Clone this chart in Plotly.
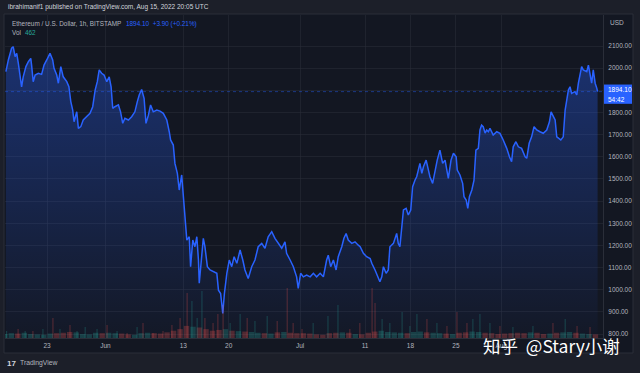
import numpy as np
import pandas as pd
import plotly.graph_objects as go

# ---------------- data ----------------
price_time = [
    "2022-05-16 16:00", "2022-05-17 01:00", "2022-05-17 13:00", "2022-05-17 19:00", "2022-05-18 02:00",
    "2022-05-18 08:00", "2022-05-18 14:00", "2022-05-18 20:00", "2022-05-19 02:00", "2022-05-19 08:00",
    "2022-05-19 18:00", "2022-05-20 03:00", "2022-05-20 12:00", "2022-05-20 15:00", "2022-05-20 21:00",
    "2022-05-21 04:00", "2022-05-21 16:00", "2022-05-22 04:00", "2022-05-22 13:00", "2022-05-22 23:00",
    "2022-05-23 11:00", "2022-05-23 21:00", "2022-05-24 02:00", "2022-05-24 12:00", "2022-05-24 18:00",
    "2022-05-25 03:00", "2022-05-25 12:00", "2022-05-26 01:00", "2022-05-26 09:00", "2022-05-26 16:00",
    "2022-05-26 23:00", "2022-05-27 04:00", "2022-05-27 14:00", "2022-05-27 20:00", "2022-05-28 05:00",
    "2022-05-28 14:00", "2022-05-29 03:00", "2022-05-29 15:00", "2022-05-30 01:00", "2022-05-30 10:00",
    "2022-05-30 18:00", "2022-05-31 01:00", "2022-05-31 10:00", "2022-05-31 19:00", "2022-06-01 05:00",
    "2022-06-01 14:00", "2022-06-01 21:00", "2022-06-02 03:00", "2022-06-02 11:00", "2022-06-03 00:00",
    "2022-06-03 08:00", "2022-06-03 16:00", "2022-06-04 00:00", "2022-06-04 13:00", "2022-06-05 01:00",
    "2022-06-05 13:00", "2022-06-05 22:00", "2022-06-06 05:00", "2022-06-06 14:00", "2022-06-06 23:00",
    "2022-06-07 06:00", "2022-06-07 15:00", "2022-06-07 23:00", "2022-06-08 09:00", "2022-06-08 22:00",
    "2022-06-09 10:00", "2022-06-09 22:00", "2022-06-10 11:00", "2022-06-10 20:00", "2022-06-11 01:00",
    "2022-06-11 11:00", "2022-06-11 17:00", "2022-06-12 02:00", "2022-06-12 09:00", "2022-06-12 18:00",
    "2022-06-13 00:00", "2022-06-13 06:00", "2022-06-13 13:00", "2022-06-13 22:00", "2022-06-14 03:00",
    "2022-06-14 11:00", "2022-06-14 19:00", "2022-06-15 02:00", "2022-06-15 08:00", "2022-06-15 11:00",
    "2022-06-15 20:00", "2022-06-16 02:00", "2022-06-16 08:00", "2022-06-16 17:00", "2022-06-17 03:00",
    "2022-06-17 15:00", "2022-06-18 04:00", "2022-06-18 10:00", "2022-06-18 18:00", "2022-06-19 02:00",
    "2022-06-19 08:00", "2022-06-19 17:00", "2022-06-20 02:00", "2022-06-20 11:00", "2022-06-20 20:00",
    "2022-06-21 06:00", "2022-06-21 18:00", "2022-06-22 04:00", "2022-06-22 12:00", "2022-06-23 00:00",
    "2022-06-23 13:00", "2022-06-24 01:00", "2022-06-24 13:00", "2022-06-25 02:00", "2022-06-25 14:00",
    "2022-06-26 02:00", "2022-06-26 15:00", "2022-06-27 03:00", "2022-06-27 15:00", "2022-06-28 04:00",
    "2022-06-28 16:00", "2022-06-28 22:00", "2022-06-29 11:00", "2022-06-29 23:00", "2022-06-30 11:00",
    "2022-06-30 17:00", "2022-07-01 02:00", "2022-07-01 12:00", "2022-07-02 00:00", "2022-07-02 13:00",
    "2022-07-03 01:00", "2022-07-03 13:00", "2022-07-04 02:00", "2022-07-04 14:00", "2022-07-05 02:00",
    "2022-07-05 08:00", "2022-07-05 17:00", "2022-07-06 03:00", "2022-07-06 13:00", "2022-07-06 21:00",
    "2022-07-07 10:00", "2022-07-07 18:00", "2022-07-08 02:00", "2022-07-08 10:00", "2022-07-08 23:00",
    "2022-07-09 11:00", "2022-07-09 23:00", "2022-07-10 06:00", "2022-07-10 18:00", "2022-07-11 06:00",
    "2022-07-11 19:00", "2022-07-12 01:00", "2022-07-12 13:00", "2022-07-13 01:00", "2022-07-13 07:00",
    "2022-07-13 14:00", "2022-07-13 20:00", "2022-07-14 06:00", "2022-07-14 14:00", "2022-07-14 20:00",
    "2022-07-15 09:00", "2022-07-15 21:00", "2022-07-16 03:00", "2022-07-16 09:00", "2022-07-16 16:00",
    "2022-07-16 22:00", "2022-07-17 08:00", "2022-07-17 16:00", "2022-07-18 01:00", "2022-07-18 08:00",
    "2022-07-18 17:00", "2022-07-18 23:00", "2022-07-19 05:00", "2022-07-19 11:00", "2022-07-19 18:00",
    "2022-07-20 00:00", "2022-07-20 10:00", "2022-07-20 18:00", "2022-07-21 00:00", "2022-07-21 10:00",
    "2022-07-21 19:00", "2022-07-22 03:00", "2022-07-22 13:00", "2022-07-22 23:00", "2022-07-23 08:00",
    "2022-07-23 20:00", "2022-07-24 06:00", "2022-07-24 15:00", "2022-07-25 01:00", "2022-07-25 05:00",
    "2022-07-25 15:00", "2022-07-26 01:00", "2022-07-26 06:00", "2022-07-26 14:00", "2022-07-26 20:00",
    "2022-07-27 02:00", "2022-07-27 11:00", "2022-07-27 19:00", "2022-07-28 02:00", "2022-07-28 11:00",
    "2022-07-28 17:00", "2022-07-28 23:00", "2022-07-29 05:00", "2022-07-29 12:00", "2022-07-29 18:00",
    "2022-07-30 00:00", "2022-07-30 06:00", "2022-07-30 18:00", "2022-07-31 07:00", "2022-07-31 19:00",
    "2022-08-01 07:00", "2022-08-01 20:00", "2022-08-02 06:00", "2022-08-02 14:00", "2022-08-02 20:00",
    "2022-08-03 06:00", "2022-08-03 15:00", "2022-08-04 03:00", "2022-08-04 16:00", "2022-08-04 22:00",
    "2022-08-05 07:00", "2022-08-05 16:00", "2022-08-06 01:00", "2022-08-06 11:00", "2022-08-06 23:00",
    "2022-08-07 11:00", "2022-08-08 00:00", "2022-08-08 10:00", "2022-08-08 16:00", "2022-08-09 00:00",
    "2022-08-09 07:00", "2022-08-09 13:00", "2022-08-09 19:00", "2022-08-10 04:00", "2022-08-10 13:00",
    "2022-08-10 20:00", "2022-08-11 02:00", "2022-08-11 08:00", "2022-08-11 14:00", "2022-08-11 20:00",
    "2022-08-12 08:00", "2022-08-12 15:00", "2022-08-12 21:00", "2022-08-13 03:00", "2022-08-13 09:00",
    "2022-08-13 15:00", "2022-08-14 04:00", "2022-08-14 10:00", "2022-08-14 16:00", "2022-08-14 22:00",
    "2022-08-15 04:00", "2022-08-15 11:00", "2022-08-15 17:00", "2022-08-15 20:00",
]
price = [
    1984, 2037, 2090, 2097, 2052, 2067, 2022, 1977, 1916, 1961,
    2007, 2029, 2044, 2014, 1939, 1969, 1977, 1972, 2014, 2037,
    2067, 2037, 1999, 1969, 1932, 2007, 1961, 1939, 1916, 1849,
    1811, 1758, 1803, 1728, 1736, 1766, 1781, 1796, 1826, 1901,
    1939, 1992, 1977, 1969, 1939, 1961, 1916, 1819, 1826, 1834,
    1803, 1751, 1774, 1766, 1781, 1803, 1849, 1879, 1904, 1864,
    1751, 1788, 1834, 1803, 1811, 1806, 1796, 1766, 1713, 1676,
    1653, 1570, 1525, 1450, 1518, 1435, 1345, 1224, 1239, 1104,
    1224, 1194, 1239, 1134, 1029, 1164, 1232, 1194, 1104, 1089,
    1081, 1074, 998, 983, 893, 983, 1074, 1134, 1104, 1149,
    1119, 1179, 1134, 1089, 1051, 1104, 1134, 1194, 1209, 1187,
    1239, 1262, 1232, 1209, 1187, 1216, 1164, 1134, 1104, 1058,
    1006, 1074, 1058, 1066, 1058, 1074, 1058, 1074, 1058, 1134,
    1156, 1104, 1134, 1089, 1149, 1194, 1232, 1254, 1224, 1209,
    1216, 1201, 1194, 1164, 1149, 1141, 1119, 1089, 1058, 1036,
    1058, 1104, 1074, 1089, 1194, 1209, 1254, 1209, 1194, 1284,
    1360, 1367, 1337, 1360, 1465, 1495, 1510, 1540, 1570, 1525,
    1555, 1585, 1532, 1510, 1480, 1540, 1585, 1630, 1570, 1585,
    1503, 1585, 1616, 1600, 1540, 1518, 1480, 1420, 1405, 1367,
    1420, 1450, 1495, 1630, 1638, 1721, 1743, 1736, 1707, 1721,
    1713, 1728, 1698, 1713, 1706, 1676, 1638, 1600, 1578, 1645,
    1668, 1645, 1638, 1600, 1593, 1661, 1690, 1736, 1721, 1713,
    1706, 1721, 1758, 1803, 1781, 1766, 1690, 1683, 1676, 1690,
    1811, 1856, 1901, 1916, 1886, 1894, 1879, 1932, 1977, 2007,
    1992, 1984, 2014, 1977, 1932, 1992, 1932, 1910, 1894.10,
]

# daily background volume (May 16 .. Aug 15)
base_vol_day = pd.date_range("2022-05-16 12:00", "2022-08-15 12:00", freq="D")
base_vol = [
    500, 600, 550, 650, 500, 450, 400, 550, 600, 650, 750, 700, 500, 450, 650, 600,
    650, 600, 550, 450, 400, 600, 650, 600, 550, 700, 900, 1100, 1500, 1400, 1300,
    1100, 900, 1000, 1100, 900, 850, 800, 750, 650, 600, 550, 700, 750, 650, 600,
    600, 550, 450, 400, 600, 650, 700, 650, 500, 450, 650, 800, 900, 750, 700, 650,
    600, 750, 800, 700, 650, 600, 550, 500, 650, 700, 800, 750, 650, 600, 500,
    550, 600, 650, 600, 700, 650, 500, 550, 650, 700, 750, 650, 550, 500, 450,
]

# hourly volume spikes
spike_time = [
    "2022-05-16 19:00", "2022-05-18 13:00", "2022-05-19 15:00", "2022-05-20 20:00", "2022-05-22 09:00",
    "2022-05-23 22:00", "2022-05-25 00:00", "2022-05-26 13:00", "2022-05-27 15:00", "2022-05-28 21:00",
    "2022-05-30 17:00", "2022-06-01 06:00", "2022-06-02 19:00", "2022-06-04 08:00", "2022-06-05 21:00",
    "2022-06-06 19:00", "2022-06-08 08:00", "2022-06-09 21:00", "2022-06-11 06:00", "2022-06-12 12:00",
    "2022-06-13 14:00", "2022-06-14 08:00", "2022-06-15 03:00", "2022-06-15 21:00", "2022-06-16 08:00",
    "2022-06-17 14:00", "2022-06-18 08:00", "2022-06-19 03:00", "2022-06-20 05:00", "2022-06-21 18:00",
    "2022-06-22 20:00", "2022-06-24 01:00", "2022-06-25 22:00", "2022-06-27 11:00", "2022-06-29 00:00",
    "2022-06-29 22:00", "2022-07-01 07:00", "2022-07-03 00:00", "2022-07-05 07:00", "2022-07-06 20:00",
    "2022-07-08 16:00", "2022-07-10 05:00", "2022-07-12 02:00", "2022-07-12 13:00", "2022-07-13 15:00",
    "2022-07-14 20:00", "2022-07-16 17:00", "2022-07-17 22:00", "2022-07-19 00:00", "2022-07-20 13:00",
    "2022-07-22 02:00", "2022-07-23 15:00", "2022-07-25 04:00", "2022-07-26 17:00", "2022-07-27 15:00",
    "2022-07-28 17:00", "2022-07-30 06:00", "2022-07-31 19:00", "2022-08-02 19:00", "2022-08-05 21:00",
    "2022-08-08 23:00", "2022-08-10 20:00", "2022-08-12 16:00", "2022-08-14 16:00",
]
spike_vol = [
    870, 1120, 870, 870, 1120, 2480, 1120, 1610, 870, 1360,
    1120, 1610, 870, 620, 1360, 1860, 620, 870, 1610, 2480,
    5580, 4590, 2480, 5830, 2480, 1860, 2980, 4090, 1860, 2980,
    2480, 2110, 2730, 2110, 6200, 1860, 1120, 1860, 2730, 4090,
    1120, 1860, 6200, 4340, 2360, 1860, 3220, 1490, 2980, 2360,
    1860, 1490, 3220, 1860, 2360, 2980, 1860, 1490, 1360, 1490,
    1860, 2360, 1490, 1360,
]

date_ticks = ["2022-05-23", "2022-06-01", "2022-06-13", "2022-06-20", "2022-07-01",
              "2022-07-11", "2022-07-18", "2022-07-25", "2022-08-01"]
date_tick_text = ["23", "Jun", "13", "20", "Jul", "11", "18", "25", "Aug"]
price_ticks = [800, 900, 1000, 1100, 1200, 1300, 1400, 1500, 1600, 1700, 1800, 1900, 2000, 2100]

# ---------------- styling ----------------
W, H = 640, 373
ML, MR, MT, MB = 5, 37, 15, 35
PW, PH = W - ML - MR, H - MT - MB


def px(x):
    return (x - ML) / PW


def py(y):
    return (H - MB - y) / PH


BLUE = "#2962ff"


def rgba(kind, a):
    return f"rgba(38,166,154,{a})" if kind == "up" else f"rgba(239,83,80,{a})"


pt = pd.to_datetime(price_time)
pnum = pt.astype("int64").to_numpy() / 1e9
pval = np.array(price, dtype=float)


def dir_colors(times, a):
    t = pd.to_datetime(times).astype("int64").to_numpy() / 1e9
    now = np.interp(t, pnum, pval)
    before = np.interp(t - 6 * 3600, pnum, pval)
    return [rgba("up" if n >= b else "down", a) for n, b in zip(now, before)]


fig = go.Figure()

fig.add_trace(go.Scatter(
    x=pt, y=price, mode="lines",
    line=dict(color=BLUE, width=1.5),
    fill="tozeroy",
    fillgradient=dict(type="vertical", start=782, stop=2100,
                      colorscale=[[0, "rgba(41,98,255,0.02)"], [1, "rgba(41,98,255,0.36)"]]),
    hoverinfo="skip", showlegend=False,
))

fig.add_trace(go.Bar(
    x=base_vol_day, y=base_vol, yaxis="y2",
    marker=dict(color=dir_colors(base_vol_day, 0.28), line=dict(width=0)),
    width=20 * 3600 * 1000, showlegend=False, hoverinfo="skip",
))
fig.add_trace(go.Bar(
    x=pd.to_datetime(spike_time), y=spike_vol, yaxis="y2",
    marker=dict(color=dir_colors(spike_time, 0.4), line=dict(width=0)),
    width=3 * 3600 * 1000, showlegend=False, hoverinfo="skip",
))

GRID = "rgba(42,46,57,0.55)"
LABEL = "#b2b5be"
FONT = "Liberation Sans"

fig.update_layout(
    width=W, height=H,
    margin=dict(l=ML, r=MR, t=MT, b=MB),
    paper_bgcolor="#1c1f29",
    plot_bgcolor="rgba(0,0,0,0)",
    barmode="overlay",
    font=dict(family=FONT, size=7, color=LABEL),
    xaxis=dict(
        type="date",
        range=["2022-05-16 12:40", "2022-08-16 16:00"],
        tickmode="array", tickvals=date_ticks, ticktext=date_tick_text,
        showgrid=True, gridcolor=GRID, gridwidth=1,
        showline=True, linecolor="#2a2e39", linewidth=1,
        ticks="", ticklabelstandoff=1, tickfont=dict(size=6.5, color=LABEL),
        zeroline=False, fixedrange=True,
    ),
    yaxis=dict(
        range=[782, 2240], side="right",
        tickmode="array", tickvals=price_ticks,
        tickformat=".2f",
        showgrid=True, gridcolor=GRID, gridwidth=1,
        showline=True, linecolor="#2a2e39", linewidth=1,
        ticks="", ticklabelstandoff=3,
        tickfont=dict(size=6.5, color=LABEL),
        zeroline=False, fixedrange=True,
    ),
    yaxis2=dict(
        overlaying="y", range=[0, 40000], visible=False, fixedrange=True,
    ),
)

# chart pane behind everything
fig.add_shape(type="rect", xref="paper", yref="paper",
              x0=px(4), x1=px(633), y0=py(353), y1=py(14),
              fillcolor="#131722", line=dict(color="#2a2e39", width=1), layer="below")

# last price line and label
last = price[-1]
fig.add_shape(type="line", xref="paper", yref="y", x0=0, x1=1, y0=last, y1=last,
              line=dict(color="rgba(41,98,255,0.45)", width=1, dash="dot"))
fig.add_shape(type="rect", xref="paper", yref="y", x0=px(604), x1=px(632),
              y0=last - 55, y1=last + 32, fillcolor=BLUE, line=dict(width=0))

ann = []


def txt(x, y, s, size=6.5, color=LABEL, anchor="left", family=FONT):
    ann.append(dict(x=px(x), y=py(y), xref="paper", yref="paper", text=s, showarrow=False,
                    xanchor=anchor, yanchor="middle",
                    font=dict(size=size, color=color, family=family)))


txt(6, 7, "ibrahimanif1 published on TradingView.com, Aug 15, 2022 20:05 UTC", size=6.5, color="#d1d4dc")
txt(10, 24, "Ethereum / U.S. Dollar, 1h, BITSTAMP", size=6.4, color="#b2b5be")
txt(124, 24, f"{last:.2f}  +3.90 (+0.21%)", size=6.4, color=BLUE)
txt(10, 33, "Vol", size=6.4, color="#b2b5be")
txt(23, 33, "462", size=6.4, color="#26a69a")
txt(608, 22, "USD", size=6.5, color=LABEL)
txt(606, 89, f"{last:.2f}", size=6.5, color="#ffffff")
txt(606, 99, "54:42", size=6.5, color="#ffffff")
txt(5, 363, "<b>17</b>", size=8, color="#d1d4dc")
txt(18, 363, "TradingView", size=6.8, color="#b2b5be")
txt(551, 345, "知乎  @Stary小谢", size=17.5, color="#ffffff", anchor="center",
    family="Noto Sans CJK SC")

fig.update_layout(annotations=ann)

fig.write_html(
    "out.html",
    config={"displayModeBar": False, "staticPlot": True},
    post_script="document.body.style.margin='0';document.body.style.overflow='hidden';",
)
